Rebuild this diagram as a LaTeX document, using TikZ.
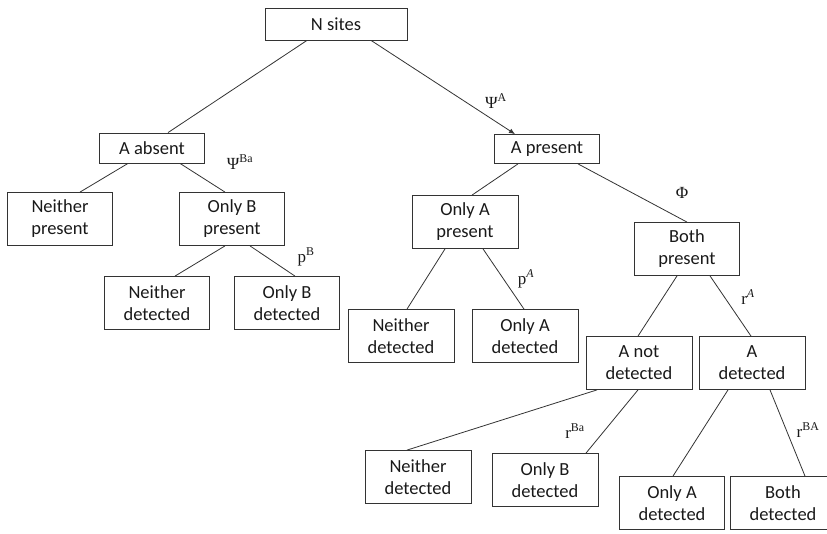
\documentclass[tikz,border=0pt]{standalone}
\usepackage{fontspec}
\setmainfont{Carlito}
\newfontfamily\labfont{Liberation Serif}
\usetikzlibrary{arrows.meta}

\tikzset{
  box/.style={draw=black!80, line width=0.8pt, align=center, minimum width=105pt,
    minimum height=53pt, inner sep=2pt, font=\fontsize{18.5}{22}\selectfont, text=black!90},
  lowbox/.style={box, minimum height=30pt},
  edge/.style={draw=black!80, line width=0.8pt},
  prob/.style={font=\labfont\fontsize{17}{19}\selectfont, text=black!90, inner sep=0pt}
}

\begin{document}
\begin{tikzpicture}[x=1pt, y=-1pt]
\useasboundingbox (0,0) rectangle (827,534);
% boxes
\node [lowbox, minimum width=142pt, minimum height=32pt] (nsites) at (336,24) {N sites};
\node [lowbox] (aabs) at (152,148) {A absent};
\node [lowbox, minimum height=29pt] (apres) at (547,149) {A present};
\node [box] (neipres) at (60,219) {Neither\\present};
\node [box] (obpres) at (232,219) {Only B\\present};
\node [box] (neidetl) at (157,303) {Neither\\detected};
\node [box] (obdetl) at (287,303) {Only B\\detected};
\node [box, minimum width=106pt] (oapres) at (465,222) {Only A\\present};
\node [box] (bothpres) at (687,249) {Both\\present};
\node [box, minimum width=106pt] (neidetm) at (401,336) {Neither\\detected};
\node [box, minimum width=106pt] (oadetm) at (525,336) {Only A\\detected};
\node [box, minimum width=106pt] (anotdet) at (639,363) {A not\\detected};
\node [box, minimum width=106pt] (adet) at (752,363) {A\\detected};
\node [box, minimum width=106pt] (neidetb) at (418,477) {Neither\\detected};
\node [box, minimum width=106pt] (obdetb) at (545,480) {Only B\\detected};
\node [box] (oadetb) at (672,503) {Only A\\detected};
\node [box] (bothdet) at (783,503) {Both\\detected};

% branches
\draw [edge] ([xshift=-29pt]nsites.south) -- ([xshift=16pt]aabs.north);
\draw [edge, -{Latex[length=6pt,width=5pt]}] ([xshift=35pt]nsites.south) -- ([xshift=-32pt]apres.north);
\draw [edge] ([xshift=-24pt]aabs.south) -- ([xshift=20pt]neipres.north);
\draw [edge] ([xshift=28pt]aabs.south) -- ([xshift=-7pt]obpres.north);
\draw [edge] ([xshift=-7pt]obpres.south) -- ([xshift=18pt]neidetl.north);
\draw [edge] ([xshift=18pt]obpres.south) -- ([xshift=8pt]obdetl.north);
\draw [edge] ([xshift=-29pt]apres.south) -- ([xshift=7pt]oapres.north);
\draw [edge] ([xshift=31pt]apres.south) -- (bothpres.north);
\draw [edge] ([xshift=-20pt]oapres.south) -- ([xshift=6pt]neidetm.north);
\draw [edge] ([xshift=18pt]oapres.south) -- ([xshift=-1pt]oadetm.north);
\draw [edge] ([xshift=-10pt]bothpres.south) -- ([xshift=-1pt]anotdet.north);
\draw [edge] ([xshift=23pt]bothpres.south) -- ([xshift=-1pt]adet.north);
\draw [edge] ([xshift=-42pt]anotdet.south) -- ([xshift=-11pt]neidetb.north);
\draw [edge] ([xshift=-1pt]anotdet.south) -- ([xshift=41pt]obdetb.north);
\draw [edge] ([xshift=-24pt]adet.south) -- ([xshift=1pt]oadetb.north);
\draw [edge] ([xshift=18pt]adet.south) -- ([xshift=22pt]bothdet.north);

% probabilities
\node [prob] (lpsia) at (496,101) {Ψ\textsuperscript{A}};
\node [prob] (lpsiba) at (240,162) {Ψ\textsuperscript{Ba}};
\node [prob] (lpb) at (306,257) {p\textsuperscript{B}};
\node [prob] (lphi) at (682,193) {Φ};
\node [prob] (lpa) at (526,279) {p\textsuperscript{\itshape A}};
\node [prob] (lra) at (748,297) {r\textsuperscript{\itshape A}};
\node [prob] (lrba) at (575,431) {r\textsuperscript{Ba}};
\node [prob] (lrbba) at (808,430) {r\textsuperscript{BA}};
\end{tikzpicture}
\end{document}
